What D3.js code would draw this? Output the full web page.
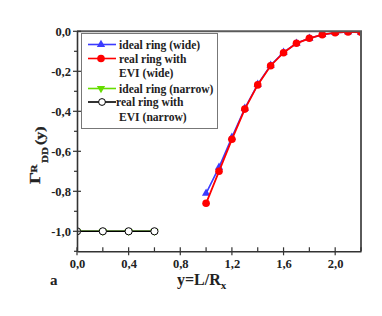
<!DOCTYPE html>
<html><head><meta charset="utf-8">
<script src="https://cdn.jsdelivr.net/npm/d3@7"></script>
<style>body{margin:0;background:#fff}svg{display:block}text{font-family:"Liberation Serif","Times New Roman",serif;font-weight:bold}</style>
</head><body><svg id="c" width="382" height="316"></svg>
<script>
const xIdealWide = [1.0, 1.1, 1.2, 1.3, 1.4, 1.5, 1.6, 1.7, 1.8, 1.9, 2.0, 2.1, 2.2];
const yIdealWide = [-0.81, -0.68, -0.53, -0.385, -0.265, -0.17, -0.105, -0.06, -0.035, -0.017, -0.007, -0.003, -0.005];
const xRealWide = [1.0, 1.1, 1.2, 1.3, 1.4, 1.5, 1.6, 1.7, 1.8, 1.9, 2.0, 2.1, 2.2];
const yRealWide = [-0.86, -0.70, -0.54, -0.389, -0.268, -0.172, -0.107, -0.06, -0.035, -0.017, -0.007, -0.003, -0.005];
const xNarrow = [0.0, 0.2, 0.4, 0.6];
const yIdealNarrow = [-1.0, -1.0, -1.0, -1.0];
const yRealNarrow = [-1.0, -1.0, -1.0, -1.0];
const xTicks = [0.0, 0.4, 0.8, 1.2, 1.6, 2.0];
const yTicks = [0.0, -0.2, -0.4, -0.6, -0.8, -1.0];
const legendLabels = [["ideal ring (wide)"], ["real ring with", "EVI (wide)"], ["ideal ring (narrow)"], ["real ring with", "EVI (narrow)"]];

const svg = d3.select("#c");
const L = 77, R = 361, T = 31.3, B = 251.3;
const x = d3.scaleLinear().domain([0, 2.2]).range([L, R]);
const y = d3.scaleLinear().domain([-1.1, 0]).range([B, T]);
const fmt = d => d3.format(".1f")(d).replace(".", ",").replace("−", "-");

svg.append("defs").append("clipPath").attr("id", "clip")
  .append("rect").attr("x", L).attr("y", T).attr("width", R - L).attr("height", B - T);

const g = svg.append("g").attr("clip-path", "url(#clip)");
const line = d3.line().x(d => x(d[0])).y(d => y(d[1]));
const zip = (a, b) => a.map((v, i) => [v, b[i]]);

const blue = "#3b3bff", red = "#ff0000", green = "#66dd00";
const tri = d3.symbol().type(d3.symbolTriangle).size(30);

// green narrow
g.append("path").attr("d", line(zip(xNarrow, yIdealNarrow))).attr("fill", "none").attr("stroke", green).attr("stroke-width", 1.6);
g.selectAll(".gt").data(zip(xNarrow, yIdealNarrow)).enter().append("path")
  .attr("d", tri).attr("fill", green)
  .attr("transform", d => `translate(${x(d[0])},${y(d[1])}) rotate(180)`);
// black narrow
g.append("path").attr("d", line(zip(xNarrow, yRealNarrow))).attr("fill", "none").attr("stroke", "#000").attr("stroke-width", 1.6);
g.selectAll(".bc").data(zip(xNarrow, yRealNarrow)).enter().append("circle")
  .attr("cx", d => x(d[0])).attr("cy", d => y(d[1])).attr("r", 3.6)
  .attr("fill", "#fff").attr("stroke", "#000").attr("stroke-width", 1);

// blue wide
g.append("path").attr("d", line(zip(xIdealWide, yIdealWide))).attr("fill", "none").attr("stroke", blue).attr("stroke-width", 1.6);
g.selectAll(".bt").data(zip(xIdealWide, yIdealWide)).enter().append("path")
  .attr("d", tri).attr("fill", blue)
  .attr("transform", d => `translate(${x(d[0])},${y(d[1])})`);
// red wide
g.append("path").attr("d", line(zip(xRealWide, yRealWide))).attr("fill", "none").attr("stroke", red).attr("stroke-width", 1.8);
g.selectAll(".rc").data(zip(xRealWide, yRealWide)).enter().append("circle")
  .attr("cx", d => x(d[0])).attr("cy", d => y(d[1])).attr("r", 3.8).attr("fill", red);

// frame top/right
svg.append("line").attr("x1", L).attr("x2", R + 1).attr("y1", T).attr("y2", T).attr("stroke", "#5a5a5a").attr("stroke-width", 2);
svg.append("line").attr("x1", R).attr("x2", R).attr("y1", T).attr("y2", B).attr("stroke", "#5a5a5a").attr("stroke-width", 2);

// axes
const xAx = svg.append("g").attr("transform", `translate(0,${B})`)
  .call(d3.axisBottom(x).tickValues(xTicks).tickFormat(fmt).tickSize(0).tickPadding(8));
xAx.select(".domain").attr("stroke", "#333").attr("stroke-width", 1.6);
xAx.selectAll("text").attr("font-size", 12.5).attr("fill", "#222");
const yAx = svg.append("g").attr("transform", `translate(${L},0)`)
  .call(d3.axisLeft(y).tickValues(yTicks).tickFormat(fmt).tickSize(0).tickPadding(6));
yAx.select(".domain").attr("stroke", "#333").attr("stroke-width", 1.6);
yAx.selectAll("text").attr("font-size", 12.5).attr("fill", "#222");

// tick marks crossing
const tk = svg.append("g").attr("stroke", "#333").attr("stroke-width", 1.2);
d3.range(0, 2.21, 0.2).forEach((v, i) => {
  const maj = i % 2 === 0;
  tk.append("line").attr("x1", x(v)).attr("x2", x(v)).attr("y1", B - 4).attr("y2", B + (maj ? 4 : 0));
});
d3.range(0, 12).forEach(i => {
  const v = -i * 0.1, maj = i % 2 === 0;
  tk.append("line").attr("x1", L - (maj ? 4 : 3)).attr("x2", L + (maj ? 4 : 0)).attr("y1", y(v)).attr("y2", y(v));
});

// axis titles
svg.append("text").attr("x", 177).attr("y", 285).attr("font-size", 16).attr("fill", "#222")
  .html('y=L/R<tspan font-size="11" dy="4">x</tspan>');
const yt = svg.append("g").attr("transform", "translate(40,154) rotate(-90) scale(1,0.75)")
  .attr("fill", "#222").attr("stroke", "#222").attr("stroke-width", 0.35);
yt.append("text").attr("x", -30).attr("y", 0).attr("font-size", 19).text("Γ");
yt.append("text").attr("x", -18.5).attr("y", -4).attr("font-size", 11).text("R");
yt.append("text").attr("x", -9).attr("y", 11).attr("font-size", 11).text("DD");
yt.append("text").attr("x", 9).attr("y", 5).attr("font-size", 16).text("(y)");
svg.append("text").attr("x", 50).attr("y", 285).attr("font-size", 15).attr("fill", "#222").text("a");

// legend
const lg = svg.append("g");
lg.append("rect").attr("x", 81.5).attr("y", 33.5).attr("width", 136).attr("height", 95)
  .attr("fill", "#fff").attr("stroke", "#777").attr("stroke-width", 1);
const rows = [44.5, 58.5, 88.5, 102];
const styles = [
  {c: blue, m: "tri"}, {c: red, m: "dot"}, {c: green, m: "tridown"}, {c: "#000", m: "open"}
];
styles.forEach((s, i) => {
  const ry = rows[i];
  lg.append("line").attr("x1", 88).attr("x2", 116).attr("y1", ry).attr("y2", ry).attr("stroke", s.c).attr("stroke-width", 1.6);
  if (s.m === "tri") lg.append("path").attr("d", tri).attr("fill", s.c).attr("transform", `translate(101,${ry})`);
  if (s.m === "tridown") lg.append("path").attr("d", tri).attr("fill", s.c).attr("transform", `translate(101,${ry}) rotate(180)`);
  if (s.m === "dot") lg.append("circle").attr("cx", 101).attr("cy", ry).attr("r", 3.8).attr("fill", s.c);
  if (s.m === "open") lg.append("circle").attr("cx", 102).attr("cy", ry).attr("r", 3.4).attr("fill", "#fff").attr("stroke", "#000");
  legendLabels[i].forEach((t, j) => {
    lg.append("text").attr("x", j === 0 ? (i === 3 ? 116 : 119) : 119).attr("y", ry + 4 + j * 14.5)
      .attr("font-size", 11.6).attr("fill", "#222").text(t);
  });
});
</script></body></html>
